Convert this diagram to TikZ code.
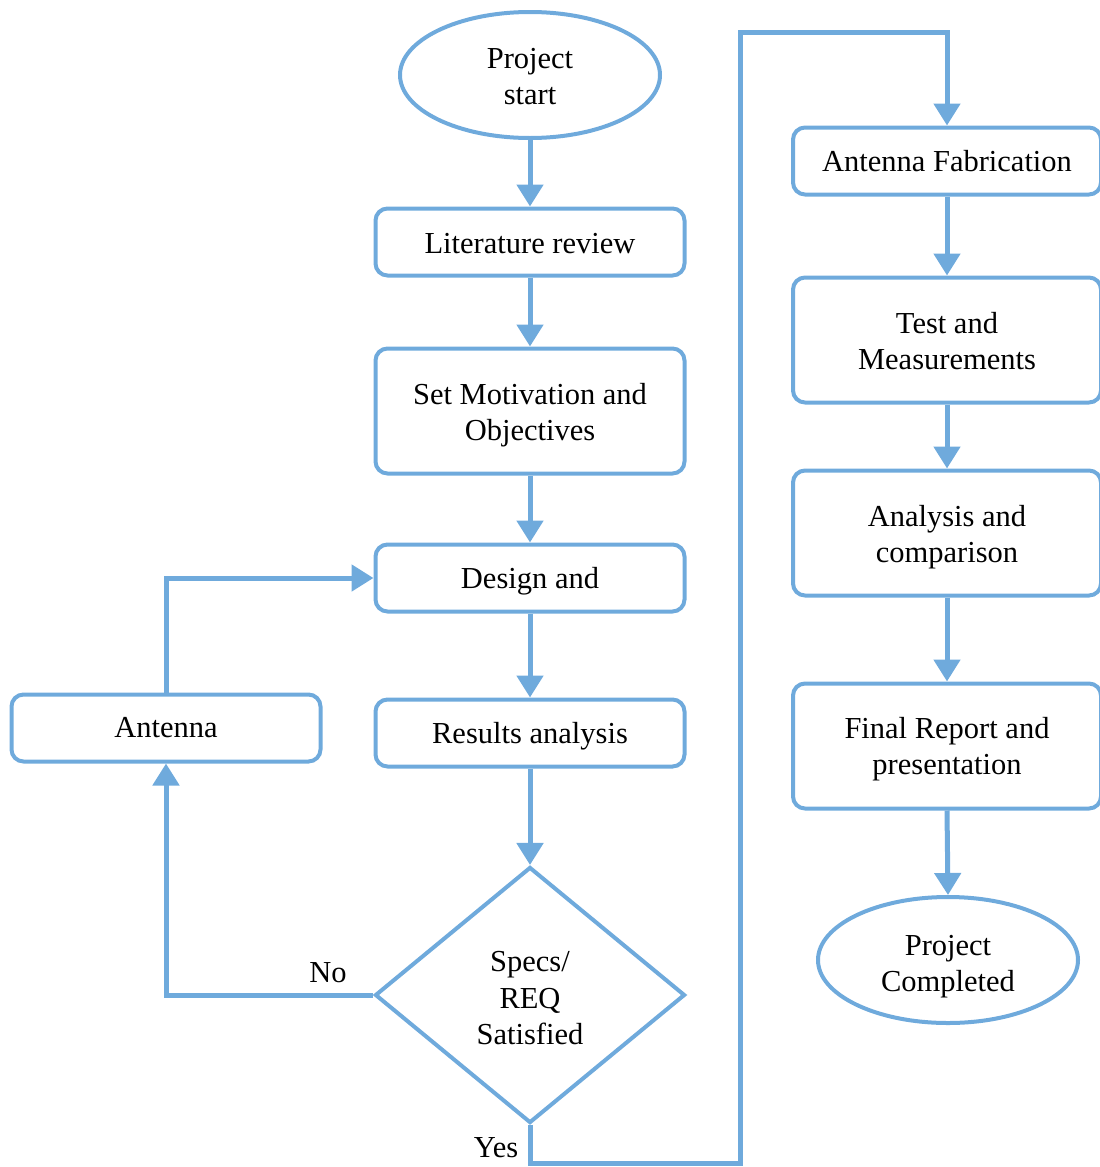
\documentclass[tikz,border=0pt]{standalone}
\usepackage{fontspec}
\setmainfont{Liberation Serif}
\usetikzlibrary{shapes.geometric,arrows.meta}
\definecolor{fblue}{RGB}{111,170,220}
\newcommand{\mytxt}[2][-3pt]{\raisebox{#1}[\height][\depth]{\begin{tabular}{@{}c@{}}#2\end{tabular}}}
\begin{document}
\begin{tikzpicture}[x=1pt,y=-1pt,
  font=\fontsize{30.5}{36.5}\selectfont,
  box/.style={draw=fblue,line width=4pt,rounded corners=12pt,rectangle,minimum width=309pt,minimum height=67pt,align=center,inner sep=0pt},
  tallbox/.style={box,minimum height=125pt},
  oval/.style={draw=fblue,line width=4pt,ellipse,minimum width=260pt,minimum height=126pt,align=center,inner sep=0pt},
  decision/.style={draw=fblue,line width=4pt,diamond,minimum width=310pt,minimum height=256pt,aspect=1.21,align=center,inner sep=0pt},
  conn/.style={draw=fblue,line width=5pt,-{Triangle[width=26pt,length=22pt]}},
  lab/.style={inner sep=0pt}]
\useasboundingbox (0,0) rectangle (1100,1167);
\node[oval] (start) at (530,75) {\mytxt[-4pt]{Project\\start}};
\node[box] (lit) at (530,242) {\mytxt[-4pt]{Literature review}};
\node[tallbox] (mot) at (530,411) {\mytxt[-4pt]{Set Motivation and\\Objectives}};
\node[box] (des) at (530,578) {\mytxt[-3pt]{Design and}};
\node[box] (res) at (530,733) {\mytxt[-3pt]{Results analysis}};
\node[box] (ant) at (166,728) {\mytxt[-2pt]{Antenna}};
\node[decision] (dec) at (530,995) {\mytxt[-6pt]{Specs/\\REQ\\Satisfied}};
\node[box,minimum width=308pt] (fab) at (947,161) {\mytxt[-3pt]{Antenna Fabrication}};
\node[tallbox,minimum width=308pt] (test) at (947,340) {\mytxt[-4pt]{Test and\\Measurements}};
\node[tallbox,minimum width=308pt] (anal) at (947,533) {\mytxt[-4pt]{Analysis and\\comparison}};
\node[tallbox,minimum width=308pt] (fin) at (947,746) {\mytxt[-3pt]{Final Report and\\presentation}};
\node[oval] (done) at (948,960) {\mytxt[-6pt]{Project\\Completed}};
\node[lab] (no) at (328,973) {No};
\node[lab] (yes) at (496,1148) {Yes};
\coordinate (c1) at (740,1163);
\coordinate (c2) at (740,32);
\draw[conn] (start) -- (lit);
\draw[conn] (lit) -- (mot);
\draw[conn] (mot) -- (des);
\draw[conn] (des) -- (res);
\draw[conn] (res) -- (dec);
\draw[conn] (dec.west) -| (ant.south);
\draw[conn] (ant.north) |- (des.west);
\draw[conn] (dec.south) |- (c1) -- (c2) -| (fab.north);
\draw[conn] (fab) -- (test);
\draw[conn] (test) -- (anal);
\draw[conn] (anal) -- (fin);
\draw[conn] (fin.south) -- (done.north);
\end{tikzpicture}
\end{document}
